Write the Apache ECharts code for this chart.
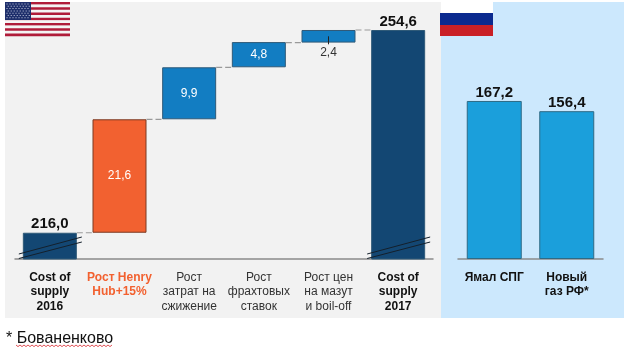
<!DOCTYPE html>
<html>
<head>
<meta charset="utf-8">
<style>
  html, body { margin: 0; padding: 0; background: #fff; }
  #chart { width: 630px; height: 355px; }
</style>
<script src="https://cdn.jsdelivr.net/npm/echarts@6/dist/echarts.min.js"></script>
</head>
<body>
<div id="chart"></div>
<script>
// left panel, waterfall
const categories = ['Cost of\nsupply\n2016', 'Рост Henry\nHub+15%', 'Рост\nзатрат на\nсжижение', 'Рост\nфрахтовых\nставок', 'Рост цен\nна мазут\nи boil-off', 'Cost of\nsupply\n2017'];
const baseValues = [0, 216.0, 237.6, 247.5, 252.2, 0];
const deltaValues = [216.0, 21.6, 9.9, 4.8, 2.4, 254.6];
const barLabels = ['216,0', '21,6', '9,9', '4,8', '2,4', '254,6'];
const barColors = ['#134773', '#F26130', '#127DC2', '#127DC2', '#127DC2', '#134773'];
// the running level each dashed connector sits at
const connectorLevels = [216.0, 237.6, 247.5, 252.2, 254.6];
const brokenBars = [0, 5];

// right panel
const rfCategories = ['Ямал СПГ', 'Новый\nгаз РФ*'];
const rfValues = [167.2, 156.4];
const rfLabels = ['167,2', '156,4'];

const FONT = '"Liberation Sans", Arial, sans-serif';
const BAR_W = 54;

function flagUS() {
  const els = [];
  // 13 stripes
  for (let i = 0; i < 13; i++) {
    els.push({ type: 'rect', shape: { x: 5, y: 2 + i * 2.62, width: 65, height: 2.7 }, style: { fill: i % 2 ? '#F4F4F4' : '#B01C3A' }, z: 5 });
  }
  els.push({ type: 'rect', shape: { x: 5, y: 2, width: 26, height: 18 }, style: { fill: '#1E2F6B' }, z: 6 });
  for (let r = 0; r < 7; r++) {
    for (let c = 0; c < 8; c++) {
      els.push({ type: 'rect', shape: { x: 6.5 + c * 3 + (r % 2) * 1.2, y: 3.5 + r * 2.3, width: 1, height: 1 }, style: { fill: '#C6CCE0' }, z: 7 });
    }
  }
  return els;
}

function spellUnderline() {
  const pts = [];
  for (let i = 0; i <= 48; i++) pts.push([16 + i * 2, 345 + (i % 2) * 1.6]);
  return { type: 'polyline', shape: { points: pts }, style: { stroke: '#D8232A', lineWidth: 0.8, fill: null }, z: 5 };
}

const graphicEls = [
  { type: 'rect', shape: { x: 5, y: 2, width: 436, height: 316 }, style: { fill: '#F2F2F2' }, z: -2 },
  { type: 'rect', shape: { x: 441, y: 36, width: 183, height: 282 }, style: { fill: '#CCE8FD' }, z: -2 },
  { type: 'rect', shape: { x: 493, y: 2, width: 131, height: 34 }, style: { fill: '#CCE8FD' }, z: -2 },
  // russian flag
  { type: 'rect', shape: { x: 440, y: 13, width: 53, height: 12 }, style: { fill: '#0B2A8F' }, z: 5 },
  { type: 'rect', shape: { x: 440, y: 25, width: 53, height: 11 }, style: { fill: '#C92026' }, z: 5 },
  { type: 'text', style: { x: 6, y: 331, text: '* Бованенково', font: '16px ' + FONT, fill: '#111' }, z: 5 },
  spellUnderline()
].concat(flagUS());

function axisCfg(gridIndex, data, colorFn) {
  return {
    type: 'category',
    gridIndex: gridIndex,
    data: data.map((v, i) => ({ value: v, textStyle: colorFn(i) })),
    axisTick: { show: false },
    axisLine: { lineStyle: { color: '#8A8A8A', width: 1.5 } },
    axisLabel: { interval: 0, margin: 11, lineHeight: 14.5, fontSize: 12, fontFamily: FONT, color: '#222' }
  };
}

const option = {
  animation: false,
  backgroundColor: '#fff',
  graphic: { elements: graphicEls },
  grid: [
    { left: 15, top: 30, width: 418, bottom: 96 },
    { left: 458, top: 30, width: 145, bottom: 96 }
  ],
  xAxis: [
    axisCfg(0, categories, i => {
      if (i === 0 || i === 5) return { fontWeight: 'bold', color: '#111' };
      if (i === 1) return { fontWeight: 'bold', color: '#F26130' };
      return { color: '#333' };
    }),
    axisCfg(1, rfCategories, () => ({ fontWeight: 'bold', color: '#111' }))
  ],
  yAxis: [
    { type: 'value', gridIndex: 0, min: 211, max: 254.6, show: false },
    { type: 'value', gridIndex: 1, min: 0, max: 242.3, show: false }
  ],
  series: [
    {
      type: 'bar', stack: 'fall', xAxisIndex: 0, yAxisIndex: 0, barWidth: BAR_W, silent: true,
      itemStyle: { color: 'transparent' },
      data: baseValues
    },
    {
      type: 'bar', stack: 'fall', xAxisIndex: 0, yAxisIndex: 0, barWidth: BAR_W, silent: true,
      data: deltaValues.map((v, i) => {
        const total = i === 0 || i === 5;
        const outside = i === 4;
        return {
          value: v,
          itemStyle: { color: barColors[i], borderColor: i === 1 ? '#7A3A22' : '#2F5A78', borderWidth: 1 },
          label: {
            show: true,
            formatter: barLabels[i],
            fontFamily: FONT,
            position: total ? 'top' : (outside ? 'bottom' : 'inside'),
            distance: total ? 1 : (outside ? 4 : 0),
            fontSize: total ? 15 : 12,
            fontWeight: total ? 'bold' : 'normal',
            color: total ? '#111' : (outside ? '#333' : '#fff')
          }
        };
      })
    },
    {
      // dashed connectors between neighbouring bars
      type: 'custom', xAxisIndex: 0, yAxisIndex: 0, silent: true, z: 3,
      data: connectorLevels.map((v, i) => [i, v]),
      renderItem: (params, api) => {
        const p = api.coord([api.value(0), api.value(1)]);
        const step = api.size([1, 0])[0];
        return {
          type: 'line',
          shape: { x1: p[0] + BAR_W / 2, y1: p[1], x2: p[0] + step - BAR_W / 2, y2: p[1] },
          style: { stroke: '#9A9A9A', lineWidth: 1.2, lineDash: [6, 3] }
        };
      }
    },
    {
      // axis break marks across the two total bars
      type: 'custom', xAxisIndex: 0, yAxisIndex: 0, silent: true, z: 4,
      data: brokenBars.map(i => [i, 211]),
      renderItem: (params, api) => {
        const p = api.coord([api.value(0), api.value(1)]);
        const mk = (y1, y2) => ({
          type: 'line',
          shape: { x1: p[0] - 31, y1: p[1] + y1, x2: p[0] + 32, y2: p[1] + y2 },
          style: { stroke: '#14202C', lineWidth: 1 }
        });
        return { type: 'group', children: [mk(-5, -22), mk(-0.5, -17)] };
      }
    },
    {
      // leader tick for the small 2,4 bar
      type: 'custom', xAxisIndex: 0, yAxisIndex: 0, silent: true, z: 4,
      data: [[4, 253.4]],
      renderItem: (params, api) => {
        const p = api.coord([api.value(0), api.value(1)]);
        return { type: 'line', shape: { x1: p[0], y1: p[1], x2: p[0], y2: p[1] + 8 }, style: { stroke: '#222', lineWidth: 1 } };
      }
    },
    {
      type: 'bar', xAxisIndex: 1, yAxisIndex: 1, barWidth: 55, silent: true,
      itemStyle: { color: '#1B9FDB', borderColor: '#2F6A85', borderWidth: 1 },
      label: {
        show: true, position: 'top', distance: 1, fontFamily: FONT, fontSize: 15, fontWeight: 'bold', color: '#111',
        formatter: p => rfLabels[p.dataIndex]
      },
      data: rfValues
    }
  ]
};

const chart = echarts.init(document.getElementById('chart'), null, { renderer: 'canvas' });
chart.setOption(option);
</script>
</body>
</html>
